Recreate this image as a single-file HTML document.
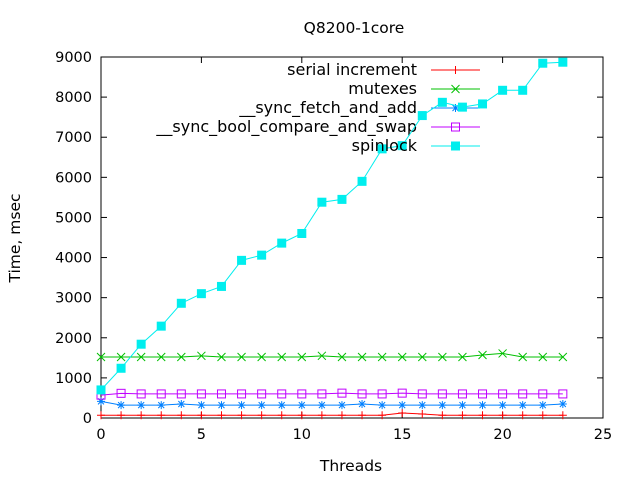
<!DOCTYPE html>
<html><head><meta charset="utf-8"><style>body{margin:0;background:#fff}svg{display:block;font-family:"DejaVu Sans","Liberation Sans",sans-serif}</style></head>
<body>
<svg id="c" width="640" height="480" xmlns="http://www.w3.org/2000/svg"></svg>
<script>
const threads=[0,1,2,3,4,5,6,7,8,9,10,11,12,13,14,15,16,17,18,19,20,21,22,23];
const serialVals=[70,70,70,70,70,70,70,70,70,70,70,70,70,70,70,125,100,70,70,70,70,70,70,70];
const mutexVals=[1520,1520,1520,1520,1520,1550,1520,1520,1520,1520,1520,1550,1520,1520,1520,1520,1520,1520,1520,1570,1610,1520,1520,1520];
const fetchAddVals=[415,320,320,320,350,320,320,320,320,320,320,320,320,350,320,320,320,320,320,320,320,320,320,350];
const casVals=[570,615,600,600,600,600,600,600,600,600,600,600,620,600,600,620,600,600,600,600,600,600,600,600];
const spinVals=[700,1240,1840,2290,2860,3100,3280,3930,4060,4360,4600,5380,5450,5900,6710,6790,7540,7870,7750,7830,8170,8170,8845,8870];
const xTicks=[0,5,10,15,20,25];
const yTicks=[0,1000,2000,3000,4000,5000,6000,7000,8000,9000];
const seriesNames=["serial increment","mutexes","__sync_fetch_and_add","__sync_bool_compare_and_swap","spinlock"];
const NS="http://www.w3.org/2000/svg";
const svg=document.getElementById('c');
const X0=101,X1=603,Y0=418,Y1=57;
const xs=v=>X0+(v/25)*(X1-X0);
const ys=v=>Y0-(v/9000)*(Y0-Y1);
function el(t,a,p){const e=document.createElementNS(NS,t);for(const k in a)e.setAttribute(k,a[k]);(p||svg).appendChild(e);return e;}
const frame=el('rect',{x:X0,y:Y1,width:X1-X0,height:Y0-Y1,fill:'none',stroke:'#000','stroke-width':1});


xTicks.forEach(t=>{
  const x=xs(t);
  el('line',{x1:x,y1:Y0,x2:x,y2:Y0-6,stroke:'#000'});
  el('line',{x1:x,y1:Y1,x2:x,y2:Y1+6,stroke:'#000'});
  const tx=el('text',{x:x,y:Y0+21,'text-anchor':'middle','font-size':14.5});tx.textContent=t;
  
  
});
yTicks.forEach(t=>{
  const y=ys(t);
  el('line',{x1:X0,y1:y,x2:X0+6,y2:y,stroke:'#000'});
  el('line',{x1:X1,y1:y,x2:X1-6,y2:y,stroke:'#000'});
  const tx=el('text',{x:X0-9,y:y+5,'text-anchor':'end','font-size':14.5});tx.textContent=t;
  
  
});
const title=el('text',{x:354,y:33,'text-anchor':'middle','font-size':15.5});title.textContent='Q8200-1core';


const xl=el('text',{x:351,y:471,'text-anchor':'middle','font-size':15.5});xl.textContent='Threads';


const yl=el('text',{x:20,y:238,'text-anchor':'middle','font-size':15.5,transform:'rotate(-90 20 238)'});yl.textContent='Time, msec';


function marker(type,x,y,c,g){
  if(type==='plus'){el('path',{d:`M${x-4} ${y}h8M${x} ${y-4}v8`,stroke:c,fill:'none'},g);}
  else if(type==='x'){el('path',{d:`M${x-4} ${y-4}l8 8M${x-4} ${y+4}l8 -8`,stroke:c,fill:'none'},g);}
  else if(type==='star'){el('path',{d:`M${x-4} ${y}h8M${x} ${y-4}v8M${x-3} ${y-3}l6 6M${x-3} ${y+3}l6 -6`,stroke:c,fill:'none'},g);}
  else if(type==='box'){el('rect',{x:x-4,y:y-4,width:8,height:8,stroke:c,fill:'none'},g);}
  else {el('rect',{x:x-4.5,y:y-4.5,width:9,height:9,fill:c},g);}
}
const series=[[serialVals,'#ff0000','plus'],[mutexVals,'#00c000','x'],[fetchAddVals,'#0080ff','star'],[casVals,'#c000ff','box'],[spinVals,'#00eeee','fbox']];
const keys=['serial','mutexes','fetch-and-add','compare-and-swap','spinlock'];
series.forEach((s,i)=>{
  const g=el('g',{});
  
  
  const pts=threads.map((t,j)=>xs(t)+','+ys(s[0][j])).join(' ');
  el('polyline',{points:pts,fill:'none',stroke:s[1],'stroke-width':1},g);
  threads.forEach((t,j)=>marker(s[2],xs(t),ys(s[0][j]),s[1],g));
  const ly=70+i*19;
  const lg=el('g',{});
  
  
  const lt=el('text',{x:417,y:ly+5,'text-anchor':'end','font-size':16},lg);lt.textContent=seriesNames[i];
  el('line',{x1:431,y1:ly,x2:480,y2:ly,stroke:s[1]},lg);
  marker(s[2],455.5,ly,s[1],lg);
});
</script>
</body></html>
